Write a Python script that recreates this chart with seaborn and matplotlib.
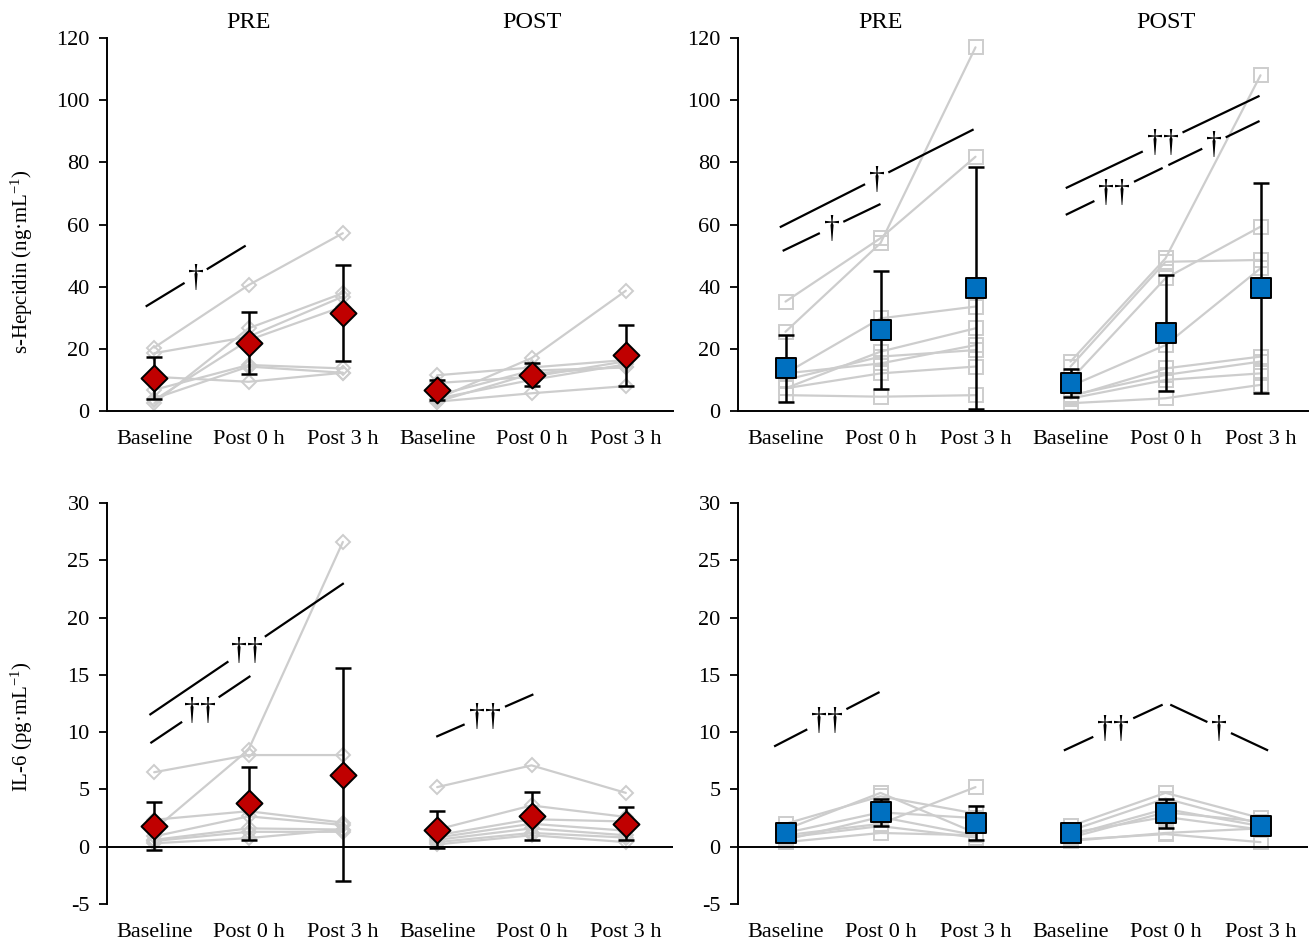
import numpy as np
import pandas as pd
import matplotlib
matplotlib.use("Agg")
import matplotlib.pyplot as plt
import seaborn as sns

# ---------------- data ----------------
timepoints = ["Baseline", "Post 0 h", "Post 3 h"]
blocks = ["PRE", "POST"]

# s-Hepcidin, red group (individual subjects: Baseline, Post 0 h, Post 3 h)
hep_red_pre = [[20.4, 40.5, 57.2], [18.6, 23.9, 36.8], [6.8, 14.8, 13.7],
               [2.5, 26.6, 37.9], [3.5, 22.8, 33.6], [4.0, 14.3, 12.3],
               [11.0, 9.4, 12.3]]
hep_red_post = [[4.0, 17.0, 38.7], [11.5, 14.0, 16.4], [3.0, 12.0, 14.3],
                [4.0, 10.0, 15.0], [3.0, 5.7, 8.0], [5.0, 13.0, 14.0],
                [9.0, 11.0, 16.0]]
hep_red_pre_mean = [10.6, 21.9, 31.5]
hep_red_pre_sd = [6.9, 10.1, 15.4]
hep_red_post_mean = [6.8, 11.6, 18.0]
hep_red_post_sd = [3.3, 3.7, 9.8]

# s-Hepcidin, blue group
hep_blue_pre = [[25.5, 54.0, 117.0], [35.2, 55.6, 81.8], [12.1, 29.8, 33.6],
                [7.3, 19.1, 26.6], [10.0, 17.5, 19.6], [12.1, 15.3, 21.2],
                [7.3, 12.1, 14.3], [5.1, 4.6, 5.1]]
hep_blue_post = [[15.9, 49.1, 108.0], [14.3, 48.0, 48.6], [10.0, 42.7, 59.3],
                 [8.0, 21.2, 45.9], [4.6, 13.7, 17.5], [5.0, 11.6, 15.9],
                 [4.0, 10.0, 12.1], [2.5, 4.1, 8.4]]
hep_blue_pre_mean = [13.7, 26.0, 39.7]
hep_blue_pre_sd = [10.7, 19.0, 38.9]
hep_blue_post_mean = [8.9, 25.0, 39.5]
hep_blue_post_sd = [4.5, 18.7, 33.8]

# IL-6, red group
il6_red_pre = [[1.5, 8.46, 26.6], [6.5, 8.0, 8.0], [2.35, 3.1, 2.1],
               [0.9, 2.65, 1.9], [0.6, 1.6, 1.5], [0.5, 1.3, 1.3],
               [0.3, 0.75, 1.5]]
il6_red_post = [[5.2, 7.1, 4.7], [1.5, 3.6, 2.6], [1.0, 2.4, 2.2],
                [0.8, 2.0, 1.4], [0.6, 1.6, 1.0], [0.4, 1.2, 0.8],
                [0.2, 1.0, 0.4]]
il6_red_pre_mean = [1.77, 3.8, 6.3]
il6_red_pre_sd = [2.1, 3.2, 9.3]
il6_red_post_mean = [1.48, 2.7, 2.0]
il6_red_post_sd = [1.6, 2.1, 1.45]

# IL-6, blue group
il6_blue_pre = [[1.0, 2.0, 5.2], [2.0, 4.4, 2.9], [1.5, 4.7, 1.2],
                [1.2, 3.0, 2.5], [0.6, 2.6, 1.0], [0.8, 1.8, 0.8],
                [0.4, 1.2, 1.0]]
il6_blue_post = [[1.8, 4.7, 2.5], [1.4, 4.2, 2.0], [1.0, 3.3, 1.8],
                 [0.8, 3.0, 2.2], [1.2, 2.6, 1.5], [0.5, 1.2, 1.6],
                 [0.6, 1.1, 0.4]]
il6_blue_pre_mean = [1.19, 3.0, 2.07]
il6_blue_pre_sd = [0.5, 1.2, 1.45]
il6_blue_post_mean = [1.19, 2.9, 1.77]
il6_blue_post_sd = [0.5, 1.23, 0.6]

# significance brackets: (x0, y0, x1, y1, label)
sig_hep_red = [(-0.09, 33.6, 0.97, 53.2, "\u2020")]
sig_hep_blue = [(-0.06, 59.1, 1.98, 90.6, "\u2020"),
                (-0.03, 51.5, 1.00, 66.6, "\u2020"),
                (2.95, 71.7, 4.99, 101.4, "\u2020\u2020"),
                (2.95, 63.1, 3.97, 78.2, "\u2020\u2020"),
                (4.03, 79.1, 4.99, 93.3, "\u2020")]
sig_il6_red = [(-0.05, 11.5, 2.01, 23.0, "\u2020\u2020"),
               (-0.04, 9.04, 1.02, 14.9, "\u2020\u2020"),
               (2.99, 9.6, 4.02, 13.3, "\u2020\u2020")]
sig_il6_blue = [(-0.12, 8.75, 0.99, 13.5, "\u2020\u2020"),
                (2.93, 8.4, 3.97, 12.4, "\u2020\u2020"),
                (4.05, 12.4, 5.08, 8.4, "\u2020")]

# ---------------- style ----------------
sns.set_style("white")
plt.rcParams["font.family"] = ["Liberation Serif", "DejaVu Serif"]
plt.rcParams["mathtext.fontset"] = "custom"
plt.rcParams["mathtext.rm"] = "Liberation Serif"
plt.rcParams["mathtext.it"] = "Liberation Serif:italic"
plt.rcParams["axes.unicode_minus"] = False

RED = "#C00000"
BLUE = "#0070C0"
GRAY = "#CDCDCD"

W, H = 1314, 943
fig = plt.figure(figsize=(W / 100, H / 100), dpi=100)


def add_ax(left, right, top, bottom):
    return fig.add_axes([left / W, 1 - bottom / H, (right - left) / W, (bottom - top) / H])


ax_tl = add_ax(107, 673, 38, 411)
ax_tr = add_ax(738, 1308, 38, 411)
ax_bl = add_ax(107, 673, 503, 904)
ax_br = add_ax(738, 1308, 503, 904)


def long_df(pre, post):
    rows = []
    for bi, block in enumerate([pre, post]):
        for si, subj in enumerate(block):
            for ti, v in enumerate(subj):
                rows.append({"x": bi * 3 + ti, "value": v, "unit": f"{bi}_{si}"})
    return pd.DataFrame(rows)


def draw_panel(ax, pre, post, pre_mean, pre_sd, post_mean, post_sd,
               ind_marker, ind_ms, mean_marker, mean_s, face, ylim, yticks,
               sigs, bottom_is_zero):
    df = long_df(pre, post)
    sns.lineplot(data=df, x="x", y="value", units="unit", estimator=None,
                 color=GRAY, lw=1.6, marker=ind_marker, ms=ind_ms,
                 markerfacecolor="none", markeredgecolor=GRAY,
                 markeredgewidth=1.4, ax=ax, legend=False, zorder=1)
    xs = list(range(6))
    means = list(pre_mean) + list(post_mean)
    sds = list(pre_sd) + list(post_sd)
    ax.errorbar(xs, means, yerr=sds, fmt="none", ecolor="black",
                elinewidth=1.8, capsize=5.5, capthick=1.8, zorder=3)
    sns.scatterplot(x=xs, y=means, marker=mean_marker, s=mean_s, color=face,
                    edgecolor="black", linewidth=1.4, zorder=4, ax=ax,
                    legend=False)
    ax.set_xlim(-0.5, 5.5)
    ax.set_ylim(*ylim)
    ax.set_yticks(yticks)
    ax.set_xticks(xs)
    ax.set_xticklabels(timepoints * 2)
    ax.set_xlabel("")
    ax.set_ylabel("")
    for s in ["top", "right"]:
        ax.spines[s].set_visible(False)
    ax.spines["left"].set_linewidth(1.4)
    ax.spines["left"].set_color("black")
    if bottom_is_zero:
        ax.spines["bottom"].set_linewidth(1.4)
        ax.spines["bottom"].set_color("black")
    else:
        ax.spines["bottom"].set_visible(False)
        ax.axhline(0, color="black", lw=1.4, zorder=2)
    ax.tick_params(axis="y", direction="out", length=5.5, width=1.3,
                   pad=7, labelsize=16, colors="black", left=True)
    ax.tick_params(axis="x", length=0, pad=14, labelsize=16, colors="black")

    # significance lines with gap for the dagger
    for (x0, y0, x1, y1, lab) in sigs:
        p0 = ax.transData.transform((x0, y0))
        p1 = ax.transData.transform((x1, y1))
        mid = (p0 + p1) / 2
        d = (p1 - p0) / np.hypot(*(p1 - p0))
        half = 13 if len(lab) == 1 else 22
        inv = ax.transData.inverted()
        a = inv.transform(mid - d * half)
        b = inv.transform(mid + d * half)
        ax.plot([x0, a[0]], [y0, a[1]], color="black", lw=1.6, zorder=5,
                solid_capstyle="butt")
        ax.plot([b[0], x1], [b[1], y1], color="black", lw=1.6, zorder=5,
                solid_capstyle="butt")
        m = inv.transform(mid + np.array([0, -2]))
        ax.text(m[0], m[1], lab, ha="center", va="center", fontsize=23,
                color="black", zorder=6)


draw_panel(ax_tl, hep_red_pre, hep_red_post, hep_red_pre_mean, hep_red_pre_sd,
           hep_red_post_mean, hep_red_post_sd, "D", 7.5, "D", 175, RED,
           (0, 120), range(0, 121, 20), sig_hep_red, True)
draw_panel(ax_tr, hep_blue_pre, hep_blue_post, hep_blue_pre_mean,
           hep_blue_pre_sd, hep_blue_post_mean, hep_blue_post_sd, "s", 10.5,
           "s", 215, BLUE, (0, 120), range(0, 121, 20), sig_hep_blue, True)
draw_panel(ax_bl, il6_red_pre, il6_red_post, il6_red_pre_mean, il6_red_pre_sd,
           il6_red_post_mean, il6_red_post_sd, "D", 7.5, "D", 175, RED,
           (-5, 30), range(-5, 31, 5), sig_il6_red, False)
draw_panel(ax_br, il6_blue_pre, il6_blue_post, il6_blue_pre_mean,
           il6_blue_pre_sd, il6_blue_post_mean, il6_blue_post_sd, "s", 10.5,
           "s", 215, BLUE, (-5, 30), range(-5, 31, 5), sig_il6_blue, False)

# block titles
for ax in (ax_tl, ax_tr):
    for xi, block in zip((1, 4), blocks):
        ax.annotate(block, xy=(xi, 1.0), xycoords=("data", "axes fraction"),
                    xytext=(0, 11), textcoords="offset points",
                    ha="center", va="center", fontsize=17.5, color="black")

# y-axis titles
fig.text(22 / W, 1 - 262 / H, "s-Hepcidin (ng\u00b7mL$^{-1}$)", rotation=90,
         ha="center", va="center", fontsize=15, color="black")
fig.text(22 / W, 1 - 727 / H, "IL-6 (pg\u00b7mL$^{-1}$)", rotation=90,
         ha="center", va="center", fontsize=15, color="black")

fig.savefig("out.png", dpi=100, facecolor="white")
